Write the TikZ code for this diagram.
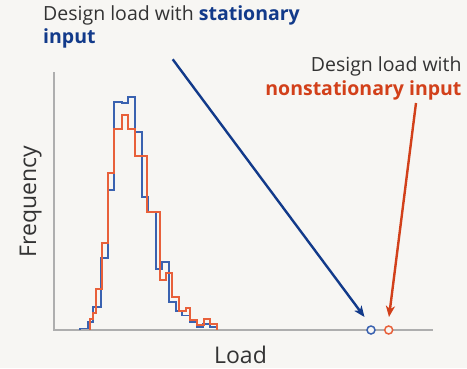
\documentclass[tikz,border=0pt]{standalone}
\usepackage{fontspec}
\setmainfont{Open Sans}
\usetikzlibrary{arrows.meta}
\definecolor{bg}{HTML}{F7F6F3}
\definecolor{ink}{HTML}{333333}
\definecolor{navy}{HTML}{123A8A}
\definecolor{histblue}{HTML}{3A62B0}
\definecolor{historange}{HTML}{E8603A}
\definecolor{rust}{HTML}{D2401A}
\definecolor{axisgray}{HTML}{AEAEAE}
\tikzset{
  label/.style={inner sep=0pt, text=ink, font=\fontsize{19.5}{22}\selectfont},
  axislabel/.style={inner sep=0pt, text=ink, font=\fontsize{23}{26}\selectfont},
  axisline/.style={draw=axisgray, line width=1.3pt},
  hist/.style={line width=1.7pt, line join=miter},
  pointer/.style={line width=2.4pt, -{Stealth[length=11pt,width=9pt,inset=3pt]}},
  marker/.style={circle, draw, line width=1.5pt, minimum size=8pt, inner sep=0pt, fill=bg},
}
\begin{document}
\begin{tikzpicture}[x=1pt,y=-1pt]
  \fill[bg] (0,0) rectangle (467,368);
  \useasboundingbox (0,0) rectangle (467,368);

  % axes
  \coordinate (top) at (54,72);
  \coordinate (origin) at (54,330);
  \coordinate (right) at (432.7,330);
  \draw[axisline] (top) -- (origin) -- (right);

  % histogram, stationary input
  \draw[hist, histblue] (80,330) -- (80,328.5) -- (87.7,328.5) -- (87.7,322.3) -- (93.3,322.3)
    -- (93.3,307.3) -- (101,307.3) -- (101,258.3) -- (107.7,258.3) -- (107.7,190)
    -- (114.3,190) -- (114.3,101.7) -- (121.7,101.7) -- (121.7,103.3) -- (128.3,103.3)
    -- (128.3,96.7) -- (135,96.7) -- (135,131.7) -- (141.7,131.7) -- (141.7,196.7)
    -- (148.3,196.7) -- (148.3,211.7) -- (156,211.7) -- (156,269.3) -- (162.3,269.3)
    -- (162.3,261.7) -- (169,261.7) -- (169,301.7) -- (175.7,301.7) -- (175.7,310.7)
    -- (182.3,310.7) -- (182.3,315.5) -- (189.7,315.5) -- (189.7,321.7) -- (196.7,321.7)
    -- (196.7,326.7) -- (203.3,326.7) -- (203.3,323.8) -- (210,323.8) -- (210,327.3)
    -- (216.7,327.3) -- (216.7,330);

  % histogram, nonstationary input
  \draw[hist, historange] (90,330) -- (90,319.3) -- (93,319.3) -- (93,313.3) -- (96,313.3)
    -- (96,289.3) -- (101.7,289.3) -- (101.7,242.7) -- (108.3,242.7) -- (108.3,173.3)
    -- (114.3,173.3) -- (114.3,129.3) -- (121.7,129.3) -- (121.7,115) -- (128.3,115)
    -- (128.3,129.3) -- (135,129.3) -- (135,156) -- (146.7,156) -- (146.7,211.7)
    -- (160,211.7) -- (160,280) -- (166.3,280) -- (166.3,273.3) -- (172.3,273.3)
    -- (172.3,296.7) -- (179,296.7) -- (179,310.7) -- (185.7,310.7) -- (185.7,308.3)
    -- (190,308.3) -- (190,320) -- (196.7,320) -- (196.7,325) -- (204.3,325)
    -- (204.3,319.3) -- (210,319.3) -- (210,324) -- (216.7,324) -- (216.7,330);

  % design load markers
  \node[marker, draw=histblue] (dlS) at (371,330) {};
  \node[marker, draw=historange] (dlN) at (388.7,330) {};

  % annotations
  \node[label, anchor=base west] (capS1) at (43,20.7)
    {Design load with \textbf{\textcolor{navy}{stationary}}};
  \node[label, anchor=base west] (capS2) at (43,43.5)
    {\textbf{\textcolor{navy}{input}}};
  \node[label, anchor=base east] (capN1) at (461.7,71.7) {Design load with};
  \node[label, anchor=base east] (capN2) at (461.7,95)
    {\textbf{\textcolor{rust}{nonstationary input}}};

  % pointers to the markers
  \coordinate (fromS) at (172.7,59.3);
  \coordinate (toS) at (364.5,317);
  \coordinate (fromN) at (416,103);
  \coordinate (toN) at (389,317);
  \draw[pointer, navy] (fromS) -- (toS);
  \draw[pointer, rust] (fromN) -- (toN);

  % axis titles
  \node[axislabel, anchor=base, rotate=90] (ylab) at (36,201.5) {Frequency};
  \node[axislabel, anchor=base] (xlab) at (240.5,363.5) {Load};
\end{tikzpicture}
\end{document}
